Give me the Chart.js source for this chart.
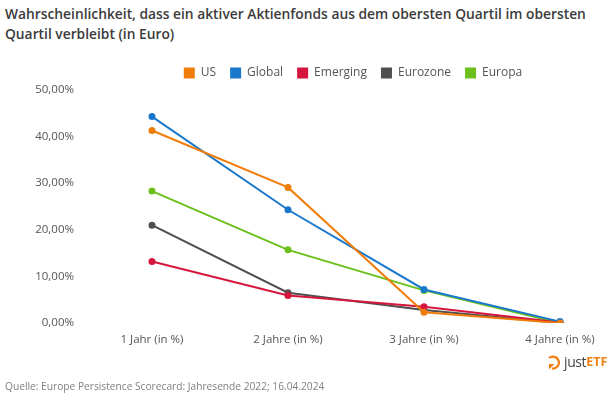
<!DOCTYPE html>
<html><head><meta charset="utf-8">
<script src="https://cdn.jsdelivr.net/npm/chart.js@4/dist/chart.umd.min.js"></script>
<style>
html,body{margin:0;padding:0;background:#fff;}
#wrap{position:relative;width:610px;height:398px;overflow:hidden;}
#title{position:absolute;left:5px;top:4px;font-family:"Open Sans",sans-serif;font-weight:600;font-size:13.8px;line-height:20px;color:#3b3b3b;white-space:nowrap;}
#src{position:absolute;left:5px;top:379px;font-family:"Open Sans",sans-serif;font-size:10.2px;color:#808080;white-space:nowrap;}
#logo{position:absolute;left:546px;top:353px;display:flex;align-items:center;font-family:"Open Sans",sans-serif;font-size:14px;line-height:18px;white-space:nowrap;}
#logo .j{color:#444;margin-left:3px;letter-spacing:-0.4px}
#logo .e{color:#f08010;font-weight:700;font-size:12.5px}
canvas{position:absolute;left:0;top:0;}
</style></head>
<body><div id="wrap">
<div id="title">Wahrscheinlichkeit, dass ein aktiver Aktienfonds aus dem obersten Quartil im obersten<br>Quartil verbleibt (in Euro)</div>
<canvas id="c" width="610" height="398"></canvas>
<div id="logo"><svg width="15" height="17" viewBox="0 0 15 17"><path d="M3 4 A6 6 0 1 1 6 14.5" fill="none" stroke="#f08010" stroke-width="2.2"/><path d="M3 15.5 L8.5 10 L3 10 Z" fill="#f08010"/></svg><span class="j">just</span><span class="e">ETF</span></div>
<div id="src">Quelle: Europe Persistence Scorecard: Jahresende 2022; 16.04.2024</div>
</div>
<script>
const categories = ["1 Jahr (in %)", "2 Jahre (in %)", "3 Jahre (in %)", "4 Jahre (in %)"];
const seriesNames = ["US", "Global", "Emerging", "Eurozone", "Europa"];
const usValues = [41.3, 29.1, 2.3, 0.0];
const globalValues = [44.3, 24.3, 7.2, 0.3];
const emergingValues = [13.2, 5.9, 3.5, 0.1];
const eurozoneValues = [21.0, 6.5, 2.8, 0.0];
const europaValues = [28.3, 15.7, 7.0, 0.0];
const yTicks = [0, 10, 20, 30, 40, 50];
const colors = ["#f07d0a", "#1a78cc", "#d6173d", "#4f4f4f", "#6cc01c"];

const allValues = [usValues, globalValues, emergingValues, eurozoneValues, europaValues];
const datasets = seriesNames.map((n, i) => ({
  label: n,
  data: allValues[i],
  borderColor: colors[i],
  backgroundColor: colors[i],
  pointBackgroundColor: colors[i],
  pointBorderColor: colors[i],
  borderWidth: 2,
  pointRadius: 2.5,
  tension: 0
}));

const legendFit = {
  id: 'legendFit',
  beforeInit(chart) {
    const orig = chart.legend.fit;
    chart.legend.fit = function () { orig.call(this); this.height = 37; };
  },
  afterLayout(chart) {
    chart.legend.left = 146;
  }
};

new Chart(document.getElementById('c'), {
  type: 'line',
  data: { labels: categories, datasets },
  plugins: [legendFit],
  options: {
    responsive: false,
    animation: false,
    layout: { padding: { top: 53, left: 0, right: 50, bottom: 0 } },
    plugins: {
      legend: {
        position: 'top',
        align: 'center',
        labels: {
          boxWidth: 11, boxHeight: 11, padding: 14, color: '#555',
          font: { family: 'Open Sans', size: 12 },
          generateLabels(chart) {
            return chart.data.datasets.map((d, i) => ({
              text: d.label, fillStyle: d.borderColor, strokeStyle: d.borderColor,
              lineWidth: 0, datasetIndex: i, hidden: false, fontColor: '#555'
            }));
          }
        }
      },
      tooltip: { enabled: false },
      title: { display: false }
    },
    scales: {
      x: {
        offset: false,
        grid: { display: false },
        border: { display: false },
        ticks: { color: '#555', padding: 2, maxRotation: 0, font: { family: 'Open Sans', size: 11.5 } },
        afterFit(s) { s.height = 75; }
      },
      y: {
        min: 0, max: 50,
        grid: { display: false },
        border: { display: false },
        afterBuildTicks(s) { s.ticks = yTicks.map(v => ({ value: v })); },
        ticks: {
          color: '#555', padding: 70,
          font: { family: 'Open Sans', size: 11.5 },
          callback: v => v.toFixed(2).replace('.', ',') + '%'
        },
        afterFit(s) { s.width = 152; s.paddingTop = 8; s.paddingBottom = 8; }
      }
    }
  }
});
</script>
</body></html>
